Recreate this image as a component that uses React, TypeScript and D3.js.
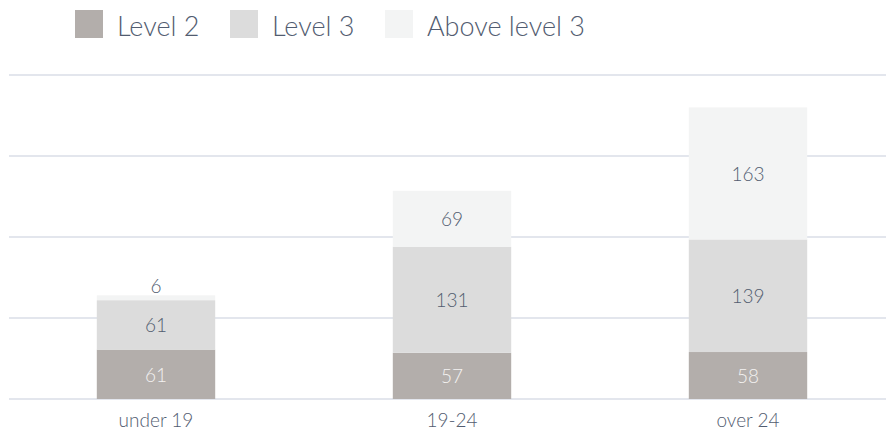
import React from "react";
import * as d3 from "d3";

const categories = ["under 19", "19-24", "over 24"];
const seriesNames = ["Level 2", "Level 3", "Above level 3"];
const level2 = [61, 57, 58];
const level3 = [61, 131, 139];
const aboveLevel3 = [6, 69, 163];
const yTicks = [0, 100, 200, 300, 400];

const colors = ["#b3aeab", "#dcdcdc", "#f3f4f4"];
const labelColors = ["#f4f2f1", "#525c70", "#525c70"];
const textColor = "#525c70";
const gridColor = "#e3e6ed";
const FONT = "Lato, 'Open Sans', sans-serif";

export default function App() {
  const W = 886, H = 432;
  const x = d3.scaleBand<string>().domain(categories).range([8, 896]).paddingInner(0.6).paddingOuter(0.3);
  const y = d3.scaleLinear().domain([0, 400]).range([399, 75]);

  const rows = categories.map((c, i) => ({ cat: c, "Level 2": level2[i], "Level 3": level3[i], "Above level 3": aboveLevel3[i] }));
  const stack = d3.stack<any>().keys(seriesNames)(rows);

  return (
    <svg width={W} height={H} style={{ position: "absolute", left: 0, top: 0, fontFamily: FONT }}>
      {yTicks.map((t) => (
        <line key={t} x1={9} x2={W} y1={y(t)} y2={y(t)} stroke={gridColor} strokeWidth={2} />
      ))}
      {stack.map((s, si) =>
        s.map((d, i) => {
          const cat = categories[i];
          const x0 = x(cat)!;
          const yTop = y(d[1]);
          const yBot = y(d[0]);
          const h = yBot - yTop;
          const v = d[1] - d[0];
          const small = h < 18;
          return (
            <g key={`${si}-${i}`}>
              <rect x={x0} y={yTop} width={x.bandwidth()} height={h} fill={colors[si]} />
              <text
                x={x0 + x.bandwidth() / 2}
                y={small ? yTop - 10 : (yTop + yBot) / 2}
                textAnchor="middle"
                dominantBaseline="central"
                fontSize={19}
                fontWeight={300}
                fill={small ? textColor : labelColors[si]}
              >
                {v}
              </text>
            </g>
          );
        })
      )}
      {categories.map((c) => (
        <text key={c} x={x(c)! + x.bandwidth() / 2} y={427} textAnchor="middle" fontSize={19} fontWeight={300} fill={textColor}>
          {c}
        </text>
      ))}
      {seriesNames.map((n, i) => (
        <g key={n} transform={`translate(${75 + i * 155},10)`}>
          <rect x={0} y={0} width={28} height={28} fill={colors[i]} />
          <text x={42} y={26} fontSize={27} fontWeight={300} fill={textColor}>
            {n}
          </text>
        </g>
      ))}
    </svg>
  );
}
